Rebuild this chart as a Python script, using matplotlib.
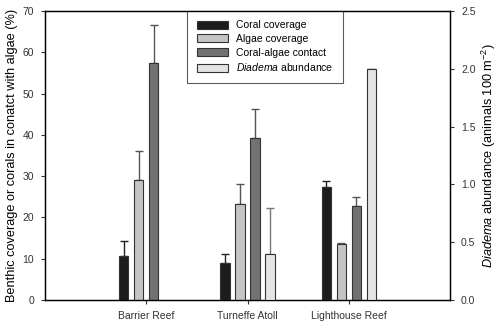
import matplotlib
matplotlib.use("Agg")
import matplotlib.pyplot as plt
import numpy as np

plt.rcParams['font.family'] = ['Liberation Sans', 'DejaVu Sans']
plt.rcParams['mathtext.fontset'] = 'custom'
plt.rcParams['mathtext.rm'] = 'Liberation Sans'
plt.rcParams['mathtext.it'] = 'Liberation Sans:italic'

sites = ['Barrier Reef', 'Turneffe Atoll', 'Lighthouse Reef']
coral = [10.7, 9.1, 27.4]
coral_err = [3.7, 2.0, 1.5]
algae = [29.0, 23.2, 13.6]
algae_err = [7.0, 4.9, 0.3]
contact = [57.5, 39.3, 22.9]
contact_err = [9.0, 7.0, 2.0]
diadema = [0.0, 0.4, 2.0]
diadema_err = [0.0, 0.4, 0.0]

x = np.arange(len(sites))
w = 0.092
step = 0.148

fig = plt.figure(figsize=(5, 3.22), dpi=100)
ax = fig.add_axes([0.09, 0.068, 0.81, 0.898])
ax2 = ax.twinx()

def bars(a, xs, vals, errs, fc, ec, lab):
    # error bars drawn beneath the bar so the lower cap is hidden
    a.errorbar(xs, vals, yerr=[np.zeros(len(vals)), errs], fmt='none', ecolor=ec,
               elinewidth=1.0, capsize=3.0, capthick=1.0, zorder=2)
    a.bar(xs, vals, w, color=fc, edgecolor='#333333', lw=0.8, zorder=3, label=lab)

bars(ax, x - 1.5*step, coral, coral_err, '#1c1c1c', '#222222', 'Coral coverage')
bars(ax, x - 0.5*step, algae, algae_err, '#c4c4c4', '#555555', 'Algae coverage')
bars(ax, x + 0.5*step, contact, contact_err, '#727272', '#555555', 'Coral-algae contact')
d = np.array(diadema) > 0
bars(ax2, x[d] + 1.5*step, np.array(diadema)[d], np.array(diadema_err)[d],
     '#e4e4e4', '#777777', '$\\it{Diadema}$ abundance')

ax.set_xlim(-1, 3)
ax.set_ylim(0, 70)
ax.set_yticks(range(0, 71, 10))
ax.set_xticks(x)
ax.set_xticklabels(sites)
ax2.set_ylim(0, 2.5)
ax2.set_yticks(np.arange(0, 2.51, 0.5))
ax2.set_yticklabels(['%.1f' % v for v in np.arange(0, 2.51, 0.5)])

for a in (ax, ax2):
    a.tick_params(direction='out', length=3, width=0.8, labelsize=7.5, colors='#333333', pad=5)
    for s in a.spines.values():
        s.set_linewidth(0.9)

ax.set_ylabel('Benthic coverage or corals in conatct with algae (%)', fontsize=9.2, labelpad=3)
ax2.set_ylabel('$\\it{Diadema}$ abundance (animals 100 m$^{-2}$)', fontsize=9.2, labelpad=3)

h1, l1 = ax.get_legend_handles_labels()
h2, l2 = ax2.get_legend_handles_labels()
leg = ax.legend(h1 + h2, l1 + l2, loc='upper left', bbox_to_anchor=(0.351, 1.0),
                borderaxespad=0, fontsize=7.5, frameon=True, fancybox=False,
                edgecolor='#333333', handlelength=3.0, handleheight=0.8,
                borderpad=0.9, labelspacing=0.35, handletextpad=0.8)
leg.get_frame().set_linewidth(0.8)
leg.set_zorder(5)

fig.savefig('out.png', dpi=100)
